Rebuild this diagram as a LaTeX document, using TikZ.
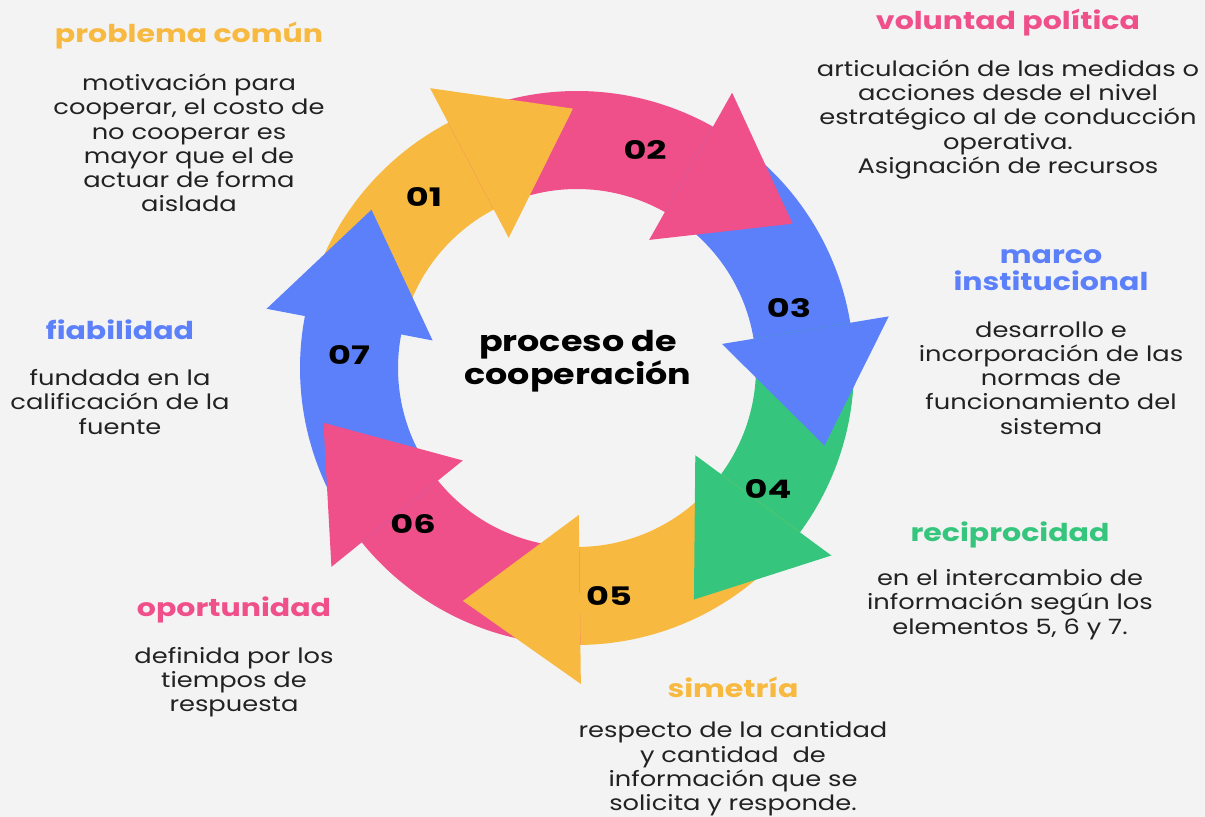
\documentclass[tikz,border=0pt]{standalone}
\usepackage{fontspec}
\setmainfont[FakeStretch=1.22]{Poppins}
\newfontfamily\numfont[FakeStretch=1.38]{Poppins}
\definecolor{bg}{HTML}{F3F3F3}
\definecolor{cyel}{HTML}{F7B940}
\definecolor{cpink}{HTML}{F0508A}
\definecolor{cblue}{HTML}{5B80FA}
\definecolor{cgreen}{HTML}{36C57C}
\definecolor{ctext}{HTML}{222222}
\tikzset{
  bodytxt/.style={align=center, text=ctext, inner sep=0pt, font=\fontsize{12}{13.8}\selectfont},
  headtxt/.style={align=center, inner sep=0pt, font=\bfseries\fontsize{14}{15}\selectfont},
  numlbl/.style={inner sep=0pt, text=black, font=\numfont\bfseries\fontsize{14.5}{15}\selectfont},
  centertxt/.style={align=center, inner sep=0pt, text=black, font=\bfseries\fontsize{16.3}{18.8}\selectfont}
}
\begin{document}
\begin{tikzpicture}[x=0.02cm,y=0.02cm]
\useasboundingbox (0,0) rectangle (1205,817);
\fill[bg] (0,0) rectangle (1205,817);
\begin{scope}[shift={(577,449)}]
  \foreach \c/\s/\e in {cyel/169.2/117.7, cpink/117.7/60.6, cblue/60.6/9.4, cgreen/9.4/-36.4, cyel/-36.4/-89.3, cpink/-89.3/-141.0, cblue/219.0/169.2}
    \fill[\c] (\s:277) arc[start angle=\s, end angle={\e-1.5}, radius=277] -- ({\e-1.5}:179) arc[start angle={\e-1.5}, end angle=\s, radius=179] -- cycle;
  \foreach \c/\e in {cyel/117.7, cpink/60.6, cblue/9.4, cgreen/-36.4, cyel/-89.3, cpink/-141.0, cblue/169.2}
    \fill[\c] (\e:316) -- ({\e-26.8}:259.4) -- (\e:147) -- cycle;
\end{scope}
\node[numlbl] (n01) at (424,620) {01};
\node[numlbl] (n02) at (645,667) {02};
\node[numlbl] (n03) at (789,509) {03};
\node[numlbl] (n04) at (768,328) {04};
\node[numlbl] (n05) at (609,221) {05};
\node[numlbl] (n06) at (413,293) {06};
\node[numlbl] (n07) at (349,462) {07};
\node[centertxt] (ctr) at (578,456) {proceso de\\cooperación};
\node[headtxt, text=cyel] (t1) at (189,781) {problema común};
\node[bodytxt] (b1) at (189,674) {motivación para\\cooperar, el costo de\\no cooperar es\\mayor que el de\\actuar de forma\\aislada};
\node[headtxt, text=cpink] (t2) at (1008,794) {voluntad política};
\node[bodytxt] (b2) at (1008,697.5) {articulación de las medidas o\\acciones desde el nivel\\estratégico al de conducción\\operativa.\\Asignación de recursos};
\node[headtxt, text=cblue] (t3) at (1051,547) {marco\\institucional};
\node[bodytxt] (b3) at (1051,439) {desarrollo e\\incorporación de las\\normas de\\funcionamiento del\\sistema};
\node[headtxt, text=cgreen] (t4) at (1010,282) {reciprocidad};
\node[bodytxt] (b4) at (1010,212.5) {en el intercambio de\\información según los\\elementos 5, 6 y 7.};
\node[headtxt, text=cyel] (t5) at (733,130) {simetría};
\node[bodytxt] (b5) at (733,48) {respecto de la cantidad\\y cantidad\ \ de\\información que se\\solicita y responde.};
\node[headtxt, text=cpink] (t6) at (234,207) {oportunidad};
\node[bodytxt] (b6) at (234,135) {definida por los\\tiempos de\\respuesta};
\node[headtxt, text=cblue] (t7) at (120,487) {fiabilidad};
\node[bodytxt] (b7) at (120,415) {fundada en la\\calificación de la\\fuente};
\end{tikzpicture}
\end{document}
